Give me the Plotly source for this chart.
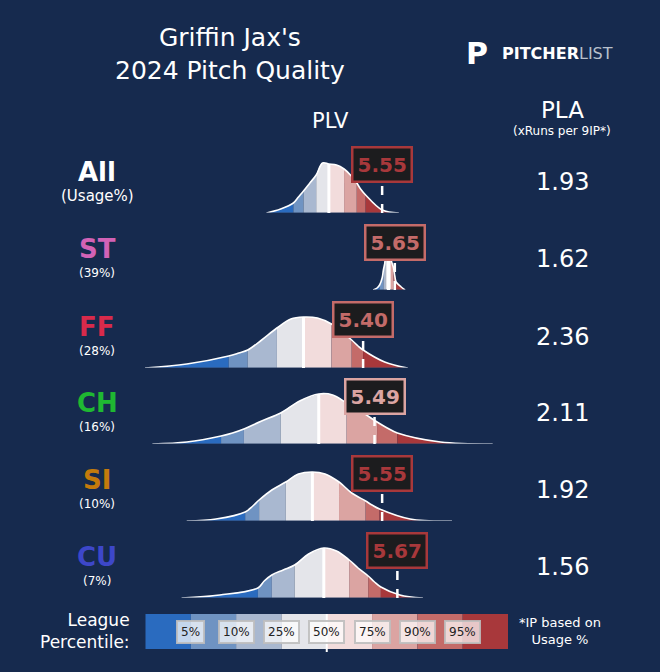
import plotly.graph_objects as go

# %% data
pitches = ['All', 'ST', 'FF', 'CH', 'SI', 'CU']
usage = ['(Usage%)', '(39%)', '(28%)', '(16%)', '(10%)', '(7%)']
pitch_colors = ['white', '#d262b6', '#d92a4b', '#1fb832', '#c47a0c', '#3d47c9']
plv = [5.55, 5.65, 5.40, 5.49, 5.55, 5.67]
pla = [1.93, 1.62, 2.36, 2.11, 1.92, 1.56]
plv_label_colors = ['#a8383b', '#c46b69', '#c46b69', '#dba4a2', '#a8383b', '#a8383b']

# density curves: even indices are the 0,5,10,25,50,75,90,95,100 percentile edges
dens_x = {
    'All': [4.64, 4.75, 4.85, 4.89, 4.93, 4.98, 5.03, 5.08, 5.13, 5.19, 5.25, 5.30, 5.35, 5.38, 5.42, 5.55, 5.68],
    'ST': [5.48, 5.51, 5.53, 5.55, 5.56, 5.57, 5.575, 5.59, 5.60, 5.61, 5.62, 5.63, 5.64, 5.65, 5.66, 5.70, 5.73],
    'FF': [3.68, 4.01, 4.34, 4.42, 4.49, 4.60, 4.72, 4.83, 4.93, 5.04, 5.15, 5.23, 5.31, 5.36, 5.40, 5.57, 5.75],
    'CH': [3.74, 4.01, 4.28, 4.37, 4.46, 4.60, 4.75, 4.90, 5.05, 5.16, 5.27, 5.39, 5.51, 5.59, 5.67, 6.01, 6.42],
    'SI': [4.01, 4.24, 4.47, 4.53, 4.58, 4.68, 4.79, 4.89, 5.00, 5.10, 5.21, 5.31, 5.42, 5.47, 5.53, 5.77, 6.10],
    'CU': [3.97, 4.27, 4.57, 4.62, 4.68, 4.77, 4.86, 4.97, 5.09, 5.19, 5.29, 5.36, 5.44, 5.49, 5.54, 5.69, 5.87],
}
dens_y = {
    'All': [0, 4, 10, 16, 22, 30, 38, 50, 49, 48, 44, 38, 30, 24, 18, 3, 0],
    'ST': [0, 2, 5, 12, 20, 26, 30, 32, 33, 32, 30, 26, 22, 14, 8, 3, 0],
    'FF': [0, 4, 12, 15, 18, 28, 40, 49, 51, 50, 44, 36, 28, 22, 18, 6, 0],
    'CH': [0, 2, 8, 11, 15, 23, 31, 43, 50, 49, 41, 32, 22, 16, 11, 2, 0],
    'SI': [0, 2, 9, 15, 21, 31, 39, 47, 49, 47, 39, 28, 20, 16, 12, 2, 0],
    'CU': [0, 3, 10, 17, 23, 28, 33, 44, 50, 47, 38, 30, 22, 16, 11, 3, 0],
}

band_colors = ['#2a6bbf', '#6f93c2', '#a9b8d0', '#e4e5ea', '#f2dcdc', '#dba4a2', '#c46b69', '#a8383b']
legend_labels = ['5%', '10%', '25%', '50%', '75%', '90%', '95%']

# %% layout helpers
W, H = 660, 672
BG = '#162a4e'
baselines = [213, 290, 368, 444, 521, 598]  # pixel rows


def py(p):
    return 1 - p / H


def px(p):
    return p / W


def note(x, y, text, size, color='white', **kw):
    d = dict(x=px(x), y=py(y), xref='paper', yref='paper', text=text, showarrow=False,
             xanchor='center', yanchor='middle', font=dict(size=size, color=color))
    d.update(kw)
    return d


fig = go.Figure()
layout = dict(
    width=W, height=H, paper_bgcolor=BG, plot_bgcolor=BG, showlegend=False,
    margin=dict(l=0, r=0, t=0, b=0),
    font=dict(family='DejaVu Sans', color='white'),
    xaxis=dict(domain=[px(145), px(495)], range=[3.68, 6.44], visible=False, fixedrange=True),
)
shapes = []
annotations = []

for i, p in enumerate(pitches):
    yname = 'y' if i == 0 else f'y{i + 1}'
    ykey = 'yaxis' if i == 0 else f'yaxis{i + 1}'
    b = baselines[i]
    layout[ykey] = dict(domain=[py(b), py(b - 60)], range=[0, 60], visible=False, anchor='x')
    xs, ys = dens_x[p], dens_y[p]
    shapes.append(dict(type='line', xref='x', yref=yname, x0=xs[0], x1=xs[-1], y0=-1, y1=-1,
                       line=dict(color='#2e4266', width=3)))
    for k in range(8):
        seg = slice(2 * k, 2 * k + 3)
        fig.add_trace(go.Scatter(x=xs[seg], y=ys[seg], yaxis=yname, mode='lines',
                                 line=dict(width=0, shape='spline'), fill='tozeroy',
                                 fillcolor=band_colors[k], hoverinfo='skip'))
    fig.add_trace(go.Scatter(x=xs, y=ys, yaxis=yname, mode='lines',
                             line=dict(color='white', width=1.6, shape='spline'), hoverinfo='skip'))
    # median
    shapes.append(dict(type='line', xref='x', yref=yname, x0=xs[8], x1=xs[8], y0=0, y1=ys[8],
                       line=dict(color='white', width=3)))
    # player value
    shapes.append(dict(type='line', xref='x', yref=yname, x0=plv[i], x1=plv[i], y0=0, y1=34,
                       line=dict(color='white', width=2.5, dash='dash')))
    annotations.append(dict(x=plv[i], y=48, xref='x', yref=yname, text=f'<b>{plv[i]:.2f}</b>',
                            showarrow=False, xanchor='center', yanchor='middle',
                            font=dict(size=20, color=plv_label_colors[i]),
                            bgcolor='#1c1c1e', bordercolor=plv_label_colors[i], borderwidth=2.5,
                            borderpad=4))
    # left labels
    annotations.append(note(97, b - 41, f'<b>{p}</b>', 26, pitch_colors[i]))
    annotations.append(note(97, b - 17, usage[i], 15 if i == 0 else 12))
    annotations.append(note(562, b - 31, f'{pla[i]:.2f}', 24))

# headers
annotations += [
    note(230, 54, "Griffin Jax's<br>2024 Pitch Quality", 25),
    note(477, 53, '<b>P</b>', 30),
    note(557, 53, "<b>PITCHER</b><span style='color:#b8c0cc'>LIST</span>", 16),
    note(330, 121, 'PLV', 21),
    note(562, 110, 'PLA', 23),
    note(562, 131, '(xRuns per 9IP*)', 12),
    note(132, 631, 'League<br>Percentile:', 17, xanchor='right', align='right'),
    note(560, 631, '*IP based on<br>Usage %', 13),
]

# percentile legend bar
bar_l, bar_r, bar_t, bar_b = 145.5, 508, 614, 649
seg_w = (bar_r - bar_l) / len(band_colors)
for k, c in enumerate(band_colors):
    shapes.append(dict(type='rect', xref='paper', yref='paper', x0=px(bar_l + k * seg_w),
                       x1=px(bar_l + (k + 1) * seg_w), y0=py(bar_b), y1=py(bar_t),
                       fillcolor=c, line=dict(width=0), layer='below'))
for k, lab in enumerate(legend_labels):
    annotations.append(note(bar_l + (k + 1) * seg_w, 631.5, lab, 12, '#222222',
                            bgcolor='rgba(255,255,255,0.72)', bordercolor='rgba(190,190,190,0.9)',
                            borderwidth=2, borderpad=3))
shapes.append(dict(type='line', xref='paper', yref='paper', x0=px(bar_l + 4 * seg_w), x1=px(bar_l + 4 * seg_w),
                   y0=py(652), y1=py(bar_t), line=dict(color='white', width=2), layer='below'))

layout['shapes'] = shapes
layout['annotations'] = annotations
fig.update_layout(**layout)
fig.write_html('out.html', config={'displayModeBar': False},
               post_script="document.body.style.margin='0';document.body.style.overflow='hidden';")
